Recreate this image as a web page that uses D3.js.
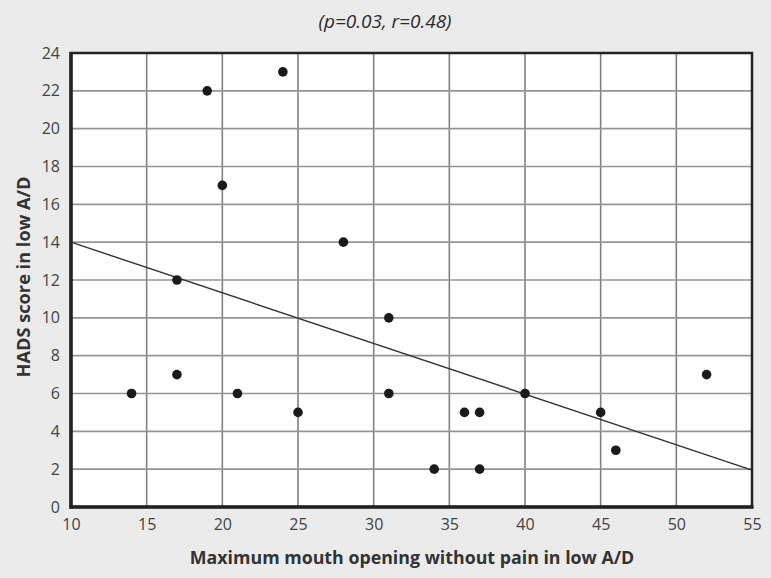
<!DOCTYPE html>
<html><head><meta charset="utf-8">
<script src="https://cdn.jsdelivr.net/npm/d3@7"></script>
<style>
html,body{margin:0;padding:0;background:#ebebeb;}
svg{display:block;}
</style></head>
<body>
<svg id="c" width="771" height="578"></svg>
<script>
const xValues = [14,17,17,19,20,21,24,25,28,31,31,34,36,37,37,40,45,46,52];
const yValues = [6,12,7,22,17,6,23,5,14,10,6,2,5,5,2,6,5,3,7];
const trendX = [10,55];
const trendY = [14,1.95];
const xTicks = [10,15,20,25,30,35,40,45,50,55];
const yTicks = [0,2,4,6,8,10,12,14,16,18,20,22,24];
const titleText = "(p=0.03, r=0.48)";
const xLabel = "Maximum mouth opening without pain in low A/D";
const yLabel = "HADS score in low A/D";

const svg = d3.select("#c");
const W=771,H=578;
const m={left:71,right:19,top:53,bottom:71};
const x = d3.scaleLinear().domain([10,55]).range([m.left, W-m.right]);
const y = d3.scaleLinear().domain([0,24]).range([H-m.bottom, m.top]);

svg.append("rect").attr("width",W).attr("height",H).attr("fill","#ebebeb");
svg.append("rect").attr("x",x(10)).attr("y",y(24)).attr("width",x(55)-x(10)).attr("height",y(0)-y(24)).attr("fill","#fff");

// grid
svg.append("g").selectAll("line").data(xTicks.slice(1,-1)).join("line")
  .attr("x1",d=>x(d)).attr("x2",d=>x(d)).attr("y1",y(0)).attr("y2",y(24))
  .attr("stroke","#808080").attr("stroke-width",1.6);
svg.append("g").selectAll("line").data(yTicks.slice(1,-1)).join("line")
  .attr("x1",x(10)).attr("x2",x(55)).attr("y1",d=>y(d)).attr("y2",d=>y(d))
  .attr("stroke","#959595").attr("stroke-width",1.6);

// trend
svg.append("line").attr("x1",x(trendX[0])).attr("y1",y(trendY[0])).attr("x2",x(trendX[1])).attr("y2",y(trendY[1]))
  .attr("stroke","#333").attr("stroke-width",1.4);

// border
svg.append("rect").attr("x",x(10)).attr("y",y(24)).attr("width",x(55)-x(10)).attr("height",y(0)-y(24))
  .attr("fill","none").attr("stroke","#222").attr("stroke-width",2.5);
svg.append("line").attr("x1",x(10)).attr("x2",x(10)).attr("y1",y(24)-1).attr("y2",y(0)+1.5).attr("stroke","#222").attr("stroke-width",3.5);
svg.append("line").attr("x1",x(10)-1.5).attr("x2",x(55)+1.5).attr("y1",y(0)).attr("y2",y(0)).attr("stroke","#222").attr("stroke-width",3.5);

// points
svg.append("g").selectAll("circle").data(xValues.map((v,i)=>[v,yValues[i]])).join("circle")
  .attr("cx",d=>x(d[0])).attr("cy",d=>y(d[1])).attr("r",4.8).attr("fill","#1a1a1a");

// axes (ticks labels only)
const font = "'Open Sans', 'Noto Sans', sans-serif";
const xAxis = svg.append("g").attr("transform",`translate(0,${y(0)+6})`)
  .call(d3.axisBottom(x).tickValues(xTicks).tickSize(0).tickPadding(6));
xAxis.select(".domain").remove();
xAxis.selectAll("text").attr("font-family",font).attr("font-size",16).attr("fill","#444");
const yAxis = svg.append("g").attr("transform",`translate(${x(10)-5},0)`)
  .call(d3.axisLeft(y).tickValues(yTicks).tickSize(0).tickPadding(6));
yAxis.select(".domain").remove();
yAxis.selectAll("text").attr("font-family",font).attr("font-size",16).attr("fill","#444");

svg.append("text").attr("x",385).attr("y",28).attr("text-anchor","middle")
  .attr("font-family",font).attr("font-size",19).attr("font-style","italic").attr("fill","#2a2a2a")
  .text(titleText);
svg.append("text").attr("x",412).attr("y",564).attr("text-anchor","middle")
  .attr("font-family",font).attr("font-size",17.8).attr("font-weight","bold").attr("fill","#333")
  .text(xLabel);
svg.append("text").attr("transform",`translate(30,${277}) rotate(-90)`).attr("text-anchor","middle")
  .attr("font-family",font).attr("font-size",18.2).attr("font-weight","bold").attr("fill","#333")
  .text(yLabel);
</script>
</body></html>
